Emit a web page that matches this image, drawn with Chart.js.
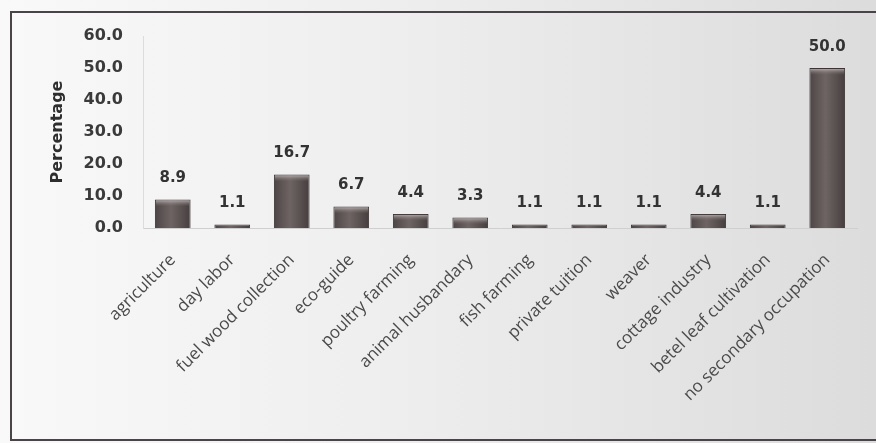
<!DOCTYPE html>
<html>
<head>
<meta charset="utf-8">
<script src="https://cdn.jsdelivr.net/npm/chart.js@4"></script>
<style>
  html, body { margin: 0; padding: 0; }
  body { width: 876px; height: 443px; overflow: hidden;
         background: linear-gradient(to right, #f9f9f9 0%, #eeeeee 45%, #dcdcdc 100%); position: relative; }
  #frame { position: absolute; left: 10px; top: 11px; width: 880px; height: 430px;
           border: 2px solid #4a4448; box-sizing: border-box; }
  #wrap { position: absolute; left: 0; top: 0; width: 876px; height: 443px; }
</style>
</head>
<body>
<div id="frame"></div>
<div id="wrap"><canvas id="c" width="876" height="443"></canvas></div>
<script>
const categories = ["agriculture", "day labor", "fuel wood collection", "eco-guide", "poultry farming",
  "animal husbandary", "fish farming", "private tuition", "weaver", "cottage industry",
  "betel leaf cultivation", "no secondary occupation"];
const percentages = [8.9, 1.1, 16.7, 6.7, 4.4, 3.3, 1.1, 1.1, 1.1, 4.4, 1.1, 50.0];
const yTicks = [0, 10, 20, 30, 40, 50, 60];

function barGradient(ctx) {
  const chart = ctx.chart;
  const xs = chart.scales && chart.scales.x;
  if (!chart.chartArea || !xs || ctx.dataIndex === undefined) return '#5a5050';
  const cx = xs.getPixelForValue(ctx.dataIndex);
  if (!Number.isFinite(cx)) return '#5a5050';
  const w = 36;
  const g = chart.ctx.createLinearGradient(cx - w / 2, 0, cx + w / 2, 0);
  g.addColorStop(0, '#4d4545');
  g.addColorStop(0.45, '#6e6464');
  g.addColorStop(1, '#463e3e');
  return g;
}

const valueLabels = {
  id: 'valueLabels',
  afterDatasetsDraw(chart) {
    const ctx = chart.ctx;
    const meta = chart.getDatasetMeta(0);
    ctx.save();
    ctx.font = 'bold 15px "DejaVu Sans"';
    ctx.fillStyle = '#333333';
    ctx.textAlign = 'center';
    ctx.textBaseline = 'middle';
    meta.data.forEach((bar, i) => {
      ctx.fillText(percentages[i].toFixed(1), bar.x, bar.y - 21);
    });
    ctx.restore();
  }
};

const bevel = {
  id: 'bevel',
  afterDatasetsDraw(chart) {
    const ctx = chart.ctx;
    const meta = chart.getDatasetMeta(0);
    ctx.save();
    meta.data.forEach((bar) => {
      const h = bar.base - bar.y;
      if (h < 6) return;
      const w = bar.width;
      const g = ctx.createLinearGradient(0, bar.y, 0, bar.y + 7);
      g.addColorStop(0, 'rgba(205,195,195,0.9)');
      g.addColorStop(1, 'rgba(120,110,110,0)');
      ctx.fillStyle = g;
      ctx.fillRect(bar.x - w / 2 + 1, bar.y + 1, w - 2, 7);
    });
    ctx.restore();
  }
};

new Chart(document.getElementById('c'), {
  type: 'bar',
  data: {
    labels: categories,
    datasets: [{
      data: percentages,
      backgroundColor: barGradient,
      borderColor: '#3d3535',
      borderWidth: 1,
      barPercentage: 0.6,
      categoryPercentage: 1.0
    }]
  },
  options: {
    responsive: false,
    animation: false,
    devicePixelRatio: 1,
    layout: { padding: { left: 48, right: 19, top: 36, bottom: 0 } },
    plugins: { legend: { display: false }, tooltip: { enabled: false } },
    scales: {
      x: {
        grid: { display: false, drawTicks: false },
        border: { display: true, color: '#cfcfcf', width: 1 },
        ticks: {
          color: '#4a4a4a',
          font: { family: '"Open Sans"', size: 17 },
          maxRotation: 45, minRotation: 45,
          padding: 22,
          autoSkip: false
        },
        afterFit(scale) { scale.height = 215; }
      },
      y: {
        min: 0, max: 60,
        afterBuildTicks(scale) { scale.ticks = yTicks.map(v => ({ value: v })); },
        grid: { display: false, drawTicks: false },
        border: { display: true, color: '#d8dde0', width: 1 },
        ticks: {
          color: '#3a3a3a',
          font: { family: '"DejaVu Sans"', size: 16, weight: 'bold' },
          padding: 20,
          callback: (v) => Number(v).toFixed(1)
        },
        title: {
          display: true,
          text: 'Percentage',
          color: '#2e2e2e',
          font: { family: '"DejaVu Sans"', size: 16, weight: 'bold' },
          padding: { top: 0, bottom: 0 }
        },
        afterFit(scale) { scale.width = 95; }
      }
    }
  },
  plugins: [bevel, valueLabels]
});
</script>
</body>
</html>
